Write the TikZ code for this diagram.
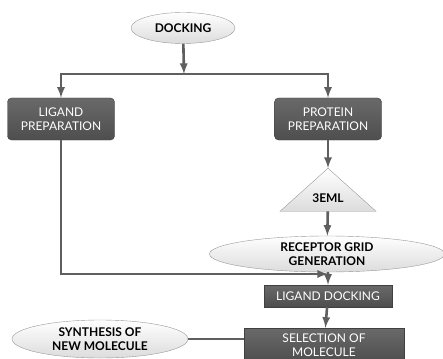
\documentclass[tikz,border=0pt]{standalone}
\usepackage{fontspec}
\setmainfont{Lato}
\usetikzlibrary{shapes,arrows}
\usetikzlibrary{positioning}
\usetikzlibrary{calc}
\definecolor{mydark}{RGB}{92,92,92}
\definecolor{mylight}{RGB}{220,220,220}
\definecolor{mywire}{RGB}{95,95,95}

\begin{document}
\begin{tikzpicture}[x=1pt, y=-1pt, >=latex,
mybox/.style={
  rectangle,
  draw=mydark!70!black,
  top color=mydark!92,
  bottom color=mydark!85!black,
  text=white,
  align=center,
  font=\fontsize{12}{14}\selectfont,
  inner sep=1pt},
myoval/.style={
  ellipse,
  draw=gray!80,
  top color=white,
  bottom color=mylight,
  align=center,
  font=\bfseries\fontsize{12}{14}\selectfont,
  inner sep=0pt},
mytri/.style={
  isosceles triangle,
  isosceles triangle apex angle=96,
  isosceles triangle stretches,
  shape border rotate=90,
  draw=gray!80,
  top color=white,
  bottom color=mylight,
  font=\bfseries\fontsize{12}{14}\selectfont,
  inner sep=0pt},
wire/.style={draw=mywire, line width=2.6pt}
]
\clip (0,0) rectangle (443,358);
\node[myoval, minimum width=104pt, minimum height=31pt] (docking) at (183,28) {DOCKING};
\node[mybox, rounded corners=4pt, minimum width=107pt, minimum height=42pt] (ligprep) at (61,119) {LIGAND\\PREPARATION};
\node[mybox, rounded corners=4pt, minimum width=107pt, minimum height=42pt] (protprep) at (328,119) {PROTEIN\\PREPARATION};
\node[mytri, minimum width=96pt, minimum height=43pt, anchor=apex] (beml) at (328,168) {3EML};
\node[myoval, minimum width=235pt, minimum height=36pt] (receptor) at (327,254) {RECEPTOR GRID\\GENERATION};
\node[mybox, minimum width=128pt, minimum height=22pt] (ligdock) at (328,296) {LIGAND DOCKING};
\node[mybox, minimum width=160pt, minimum height=34pt] (selection) at (324,345) {SELECTION OF\\MOLECULE};
\node[myoval, minimum width=176pt, minimum height=38pt] (synthesis) at (100,339) {SYNTHESIS OF\\NEW MOLECULE};

\coordinate (split) at (184,74);
\coordinate (join) at (328,274);
\draw[wire,->] (docking) -- (split);
\draw[wire,->] (split) -| (ligprep);
\draw[wire,->] (split) -| (protprep);
\draw[wire,->] (protprep) -- (beml.apex);
\draw[wire,->] (beml) -- (receptor);
\draw[wire,->] (ligprep) |- (join);
\draw[wire] (receptor) -- (join);
\draw[wire,->] (join) -- (ligdock);
\draw[wire,->] (ligdock) -- (selection);
\draw[wire] (synthesis) -- (synthesis -| selection.west);
\end{tikzpicture}
\end{document}
